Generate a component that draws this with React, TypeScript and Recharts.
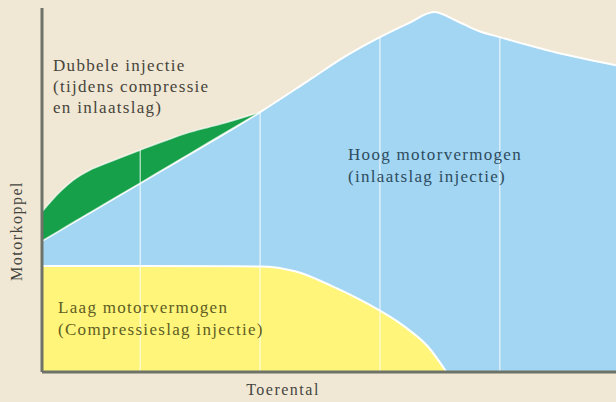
import { ComposedChart, Area, XAxis, YAxis, ReferenceLine } from 'recharts';

// Hoog motorvermogen (inlaatslag injectie) - upper envelope
const hoogRpm = [180, 1000, 2000, 2400, 2700, 3000, 3250, 3450, 3650, 3830, 4000, 4470, 4970];
const hoogVal = [36.0, 51.9, 71.4, 80.0, 86.5, 92.0, 96.0, 98.9, 96.3, 93.6, 92.0, 87.8, 84.3];

// Dubbele injectie - green band, bottom edge lies on the blue line
const dubbeleRpm = [180, 330, 440, 580, 720, 1000, 1270, 1415, 1670, 2000];
const dubbeleLow = [36.0, 38.9, 41.1, 43.8, 46.5, 51.9, 57.2, 60.0, 65.0, 71.4];
const dubbeleHigh = [44.0, 49.5, 52.7, 55.5, 57.4, 61.0, 64.3, 65.9, 68.1, 71.4];

// Laag motorvermogen (compressieslag injectie)
const laagRpm = [180, 1000, 2000, 2300, 2600, 2900, 3200, 3400, 3555];
const laagVal = [29.1, 29.1, 29.0, 27.6, 23.6, 18.7, 12.6, 7.0, 0];

const gridRpm = [1000, 2000, 3000, 4000];

const allRpm = Array.from(new Set([...hoogRpm, ...dubbeleRpm, ...laagRpm])).sort((a, b) => a - b);

const pick = (xs: number[], ys: number[], x: number) => {
  const i = xs.indexOf(x);
  return i < 0 ? null : ys[i];
};

const data = allRpm.map((r) => {
  const i = dubbeleRpm.indexOf(r);
  return {
    rpm: r,
    hoog: pick(hoogRpm, hoogVal, r),
    laag: pick(laagRpm, laagVal, r),
    dubbele: i < 0 ? null : [dubbeleLow[i], dubbeleHigh[i]],
  };
});

const BG = '#f0e8d5';
const AXIS = '#6e7369';
const font = '"Liberation Serif", "Times New Roman", serif';

// top of the coloured area at a grid position
const topAt = (r: number) => {
  const h = pick(hoogRpm, hoogVal, r) ?? 0;
  const d = pick(dubbeleRpm, dubbeleHigh, r) ?? 0;
  return Math.max(h, d);
};

export default function App() {
  return (
    <div style={{ position: 'fixed', left: 0, top: 0, width: 616, height: 402, background: BG }}>
      <ComposedChart width={616} height={402} data={data} margin={{ top: 8, right: 0, bottom: 0, left: 0 }}>
        <XAxis
          type="number"
          dataKey="rpm"
          domain={[180, 4970]}
          tick={false}
          tickLine={false}
          height={30}
          axisLine={{ stroke: AXIS, strokeWidth: 3 }}
        />
        <YAxis
          type="number"
          domain={[0, 100]}
          tick={false}
          tickLine={false}
          width={42}
          axisLine={{ stroke: AXIS, strokeWidth: 3 }}
        />
        <Area
          type="monotone"
          dataKey="hoog"
          fill="#a2d6f3"
          fillOpacity={1}
          stroke="#ffffff"
          strokeWidth={2}
          connectNulls
          isAnimationActive={false}
        />
        <Area
          type="monotone"
          dataKey="laag"
          fill="#fff57a"
          fillOpacity={1}
          stroke="#ffffff"
          strokeWidth={2}
          connectNulls
          isAnimationActive={false}
        />
        <Area
          type="monotone"
          dataKey="dubbele"
          fill="#17a04a"
          fillOpacity={1}
          stroke="#ffffff"
          strokeOpacity={0.7}
          strokeWidth={1.5}
          connectNulls
          isAnimationActive={false}
        />
        {gridRpm.map((g) => (
          <ReferenceLine
            key={g}
            segment={[{ x: g, y: 0 }, { x: g, y: topAt(g) }]}
            stroke="#ffffff"
            strokeOpacity={0.6}
            strokeWidth={1.5}
          />
        ))}
      </ComposedChart>
      <svg width={616} height={402} style={{ position: 'absolute', left: 0, top: 0, pointerEvents: 'none' }}>
        <g fontFamily={font} fontSize={17} style={{ letterSpacing: 1.3 }}>
          <text x={53} y={71} fill="#47443b">Dubbele injectie</text>
          <text x={53} y={92} fill="#47443b">(tijdens compressie</text>
          <text x={53} y={113} fill="#47443b">en inlaatslag)</text>
          <text x={348} y={160} fill="#2e4c5e">Hoog motorvermogen</text>
          <text x={348} y={182} fill="#2e4c5e">(inlaatslag injectie)</text>
          <text x={58} y={313} fill="#5e5d22">Laag motorvermogen</text>
          <text x={58} y={335} fill="#5e5d22">(Compressieslag injectie)</text>
        </g>
        <g fontFamily={font} fontSize={16} fill="#45453f" style={{ letterSpacing: 1.5 }}>
          <text x={22} y={231} textAnchor="middle" transform="rotate(-90 22 231)">Motorkoppel</text>
          <text x={283} y={395} textAnchor="middle">Toerental</text>
        </g>
      </svg>
    </div>
  );
}
